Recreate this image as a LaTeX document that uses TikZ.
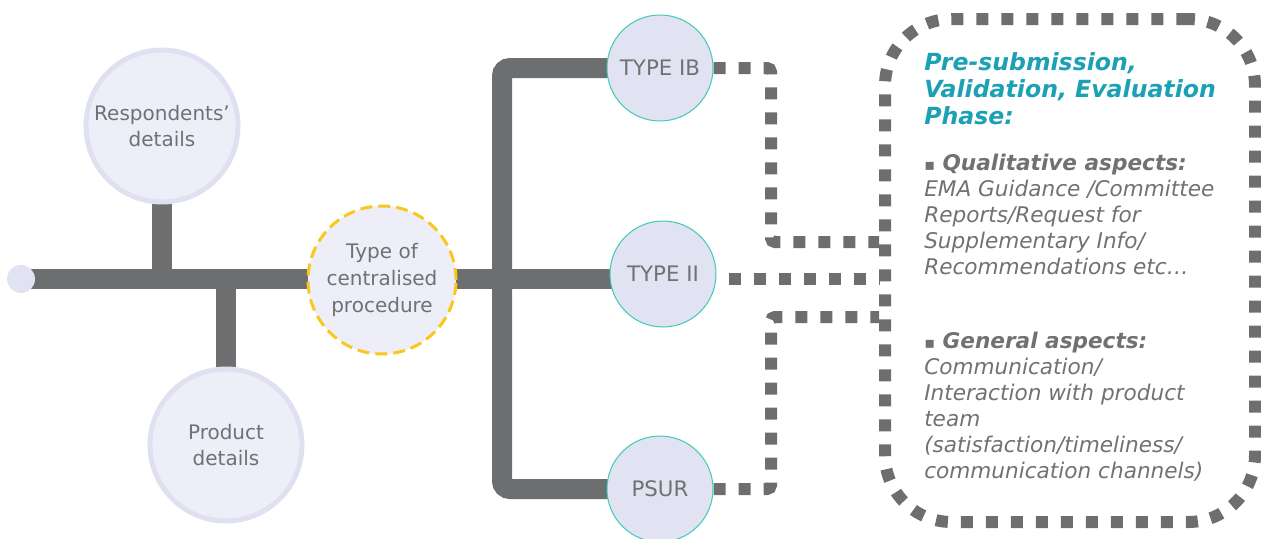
\documentclass[tikz,border=0pt]{standalone}
\usepackage{fontspec}
\setmainfont{DejaVu Sans}
\usetikzlibrary{backgrounds}
\definecolor{bargray}{HTML}{6D6E70}
\definecolor{txtgray}{HTML}{707173}
\definecolor{lav}{HTML}{E1E2F2}
\definecolor{lavlight}{HTML}{EEEEF8}
\definecolor{lavborder}{HTML}{E0E1F0}
\definecolor{tealb}{HTML}{3CCBB4}
\definecolor{headteal}{HTML}{1BA0B4}
\definecolor{gold}{HTML}{F8C81C}
\newcommand{\sqbullet}{{\fontsize{12}{12}\selectfont\upshape\mdseries ▪}}
\tikzset{
  bigcirc/.style={circle, fill=lavlight, draw=lavborder, line width=3.75pt, minimum size=114pt, inner sep=0pt, align=center, text=txtgray, font=\fontsize{15}{20}\selectfont},
  typecirc/.style={circle, fill=lav, draw=tealb, line width=0.75pt, minimum size=79.5pt, inner sep=0pt, text=txtgray, font=\fontsize{16}{19}\selectfont},
  proccirc/.style={circle, fill=lavlight, draw=gold, line width=2.25pt, dash pattern=on 9pt off 4.5pt, minimum size=111pt, inner sep=0pt, align=center, text=txtgray, font=\fontsize{15}{20}\selectfont},
  startdot/.style={circle, fill=lav, minimum size=21pt, inner sep=0pt},
  bar/.style={draw=bargray, line width=15pt},
  dots/.style={draw=bargray, line width=9pt, dash pattern=on 9pt off 9.75pt},
  phasebox/.style={rectangle, draw=bargray, line width=9pt, dash pattern=on 9pt off 9.75pt, rounded corners=50pt, minimum width=277.5pt, minimum height=377.25pt, inner sep=0pt},
  headtxt/.style={anchor=base west, inner sep=0pt, text=headteal, font=\fontsize{17.7}{20}\selectfont\bfseries\itshape},
  bodytxt/.style={anchor=base west, inner sep=0pt, text=txtgray, font=\fontsize{16.2}{19.5}\selectfont\itshape},
  boldtxt/.style={anchor=base west, inner sep=0pt, text=txtgray, font=\fontsize{16.2}{19.5}\selectfont\bfseries\itshape},
}
\begin{document}
\begin{tikzpicture}[x=0.75pt,y=-0.75pt]
\useasboundingbox (0,0) rectangle (1261,539);
% nodes
\node[startdot] (start) at (21,279) {};
\node[bigcirc] (resp) at (162,126) {Respondents’\\details};
\node[bigcirc] (prod) at (226,445) {Product\\details};
\node[proccirc] (proc) at (382,280) {Type of\\centralised\\procedure};
\node[typecirc] (typeib) at (660,68) {TYPE IB};
\node[typecirc] (typeii) at (663,274) {TYPE II};
\node[typecirc] (psur) at (660,489) {PSUR};
\coordinate (trunk) at (502,279);
\node[phasebox] (box) at (1070,270.5) {};
% text in box
\node[headtxt] (h1) at (924,70) {Pre-submission,};
\node[headtxt] (h2) at (924,97) {Validation, Evaluation};
\node[headtxt] (h3) at (924,124) {Phase:};
\node[boldtxt] (q0) at (924,170) {\sqbullet{} Qualitative aspects:};
\node[bodytxt] (q1) at (924,196) {EMA Guidance /Committee};
\node[bodytxt] (q2) at (924,222) {Reports/Request for};
\node[bodytxt] (q3) at (924,248) {Supplementary Info/};
\node[bodytxt] (q4) at (924,274) {Recommendations etc…};
\node[boldtxt] (g0) at (924,348) {\sqbullet{} General aspects:};
\node[bodytxt] (g1) at (924,374) {Communication/};
\node[bodytxt] (g2) at (924,400) {Interaction with product};
\node[bodytxt] (g3) at (924,426) {team};
\node[bodytxt] (g4) at (924,452) {(satisfaction/timeliness/};
\node[bodytxt] (g5) at (924,478) {communication channels)};
% connectors
\begin{pgfonlayer}{background}
\draw[bar] (start.center) -- (start.center -| typeii.center);
\draw[bar] (resp.center) -- (resp.center |- start.center);
\draw[bar] (prod.center) -- (prod.center |- start.center);
\draw[bar, rounded corners=6pt] (typeib.center) -| (trunk) |- (psur.center);
\draw[dots, rounded corners=3pt] (typeib.east) -| (771,242) -- (box.west |- {(0,242)});
\draw[dots, dash phase=-9pt] (typeii.east |- trunk) -- (box.west |- trunk);
\draw[dots, rounded corners=3pt] (psur.east) -| (771,317) -- (box.west |- {(0,317)});
\end{pgfonlayer}
\end{tikzpicture}
\end{document}
